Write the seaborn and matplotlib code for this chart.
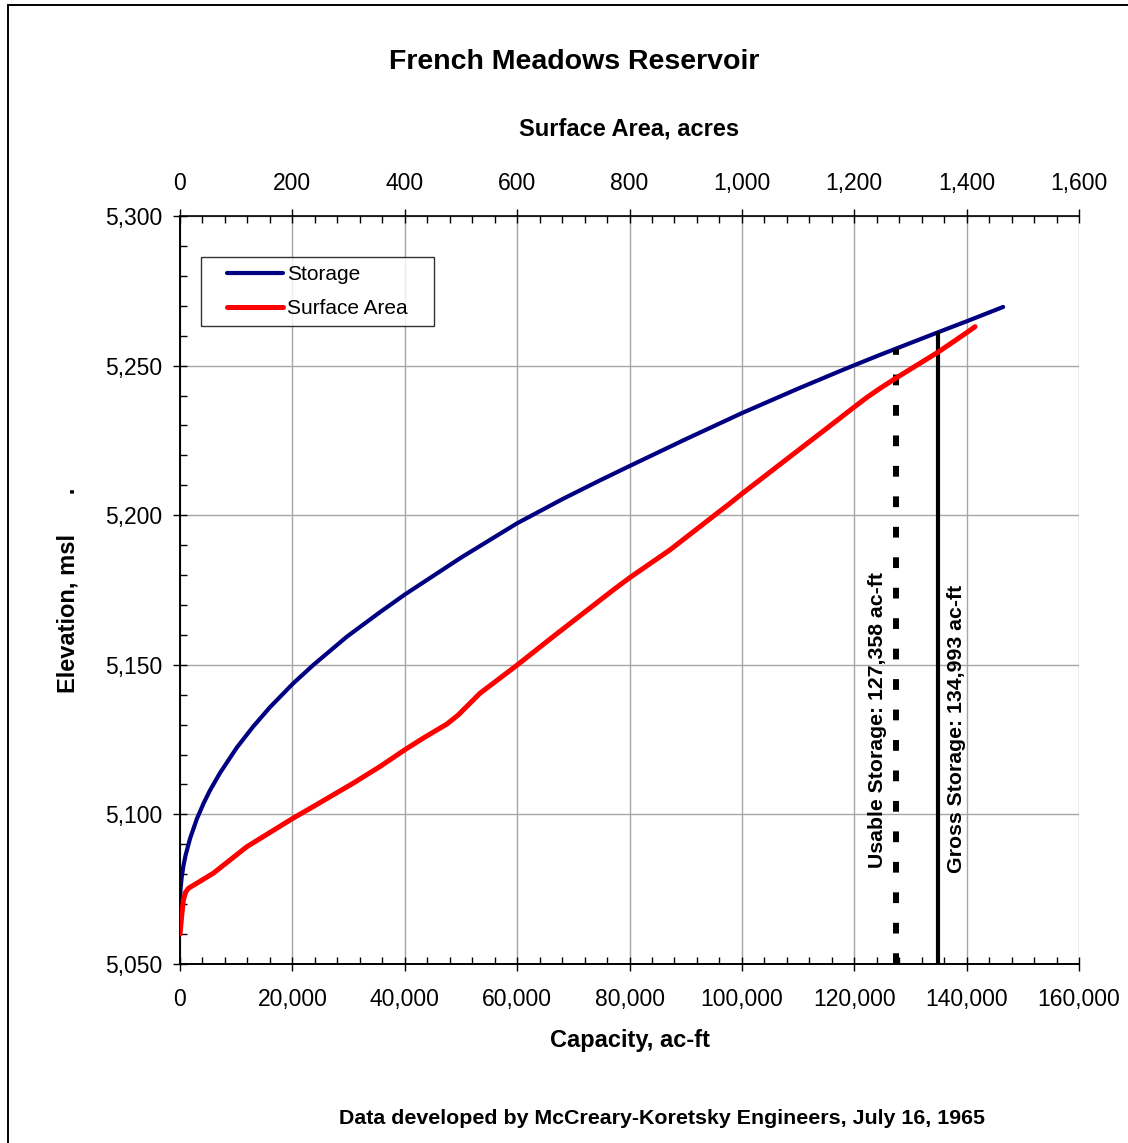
import numpy as np
import pandas as pd
import matplotlib
matplotlib.use("Agg")
import matplotlib.pyplot as plt
from matplotlib.ticker import MultipleLocator, FuncFormatter
from matplotlib.patches import Rectangle
from matplotlib.legend_handler import HandlerLine2D
from matplotlib.lines import Line2D
import seaborn as sns

# Storage curve: capacity (ac-ft) vs elevation (ft msl)
storage_cap = [0, 100, 300, 600, 1000, 1800, 3000, 4200, 5300, 7100, 10100, 13000,
               16000, 20100, 23700, 29700, 35600, 40100, 50000, 60000, 68200, 74700,
               80200, 90000, 100100, 110000, 117500, 120100, 124600, 135000, 140000, 146500]
storage_elev = [5070, 5075.2, 5079, 5082.7, 5086.4, 5092, 5098.5, 5103.7, 5107.9, 5113.8,
                5122.3, 5129.3, 5135.8, 5143.7, 5149.9, 5159.4, 5167.6, 5173.6, 5185.8,
                5197.3, 5205.5, 5211.6, 5216.6, 5225.4, 5234.2, 5242.3, 5248.2, 5250.2,
                5253.6, 5261.2, 5264.8, 5269.6]

# Surface area curve: area (acres) vs elevation (ft msl)
area_acres = [0, 3, 6, 10, 15, 59, 119, 201, 237, 308, 356, 401, 433, 475, 495,
              534, 600, 664, 771, 801, 872, 979, 1001, 1175, 1201, 1222, 1246, 1274,
              1350, 1400, 1415]
area_elev = [5060, 5066, 5071.4, 5074, 5075.3, 5080.3, 5089.2, 5098.7, 5102.6, 5110.4,
             5116, 5121.7, 5125.5, 5130.2, 5133.2, 5140.5, 5149.9, 5159.4, 5175,
             5179.2, 5188.4, 5204, 5207.3, 5232.5, 5236.3, 5239.3, 5242.4, 5245.8,
             5254.6, 5261, 5263]

usable_storage = 127358
gross_storage = 134993

storage = pd.DataFrame({"cap": storage_cap, "elev": storage_elev})
area = pd.DataFrame({"area": area_acres, "elev": area_elev})

sns.set_style("white")
plt.rcParams["font.family"] = ["Liberation Sans", "DejaVu Sans"]
plt.rcParams["text.color"] = "black"
plt.rcParams["axes.labelcolor"] = "black"
plt.rcParams["xtick.color"] = "black"
plt.rcParams["ytick.color"] = "black"


class ShortLine(HandlerLine2D):
    # legend line drawn only on the right part of the handle box, like Excel
    def create_artists(self, legend, orig_handle, xdescent, ydescent, width, height,
                       fontsize, trans):
        arts = super().create_artists(legend, orig_handle, xdescent, ydescent, width,
                                      height, fontsize, trans)
        for a in arts:
            xd = np.asarray(a.get_xdata(), dtype=float)
            yd = np.asarray(a.get_ydata(), dtype=float)
            if len(xd) > 1:
                x0 = xd[0] + 0.24 * (xd[-1] - xd[0])
                a.set_data(np.linspace(x0, xd[-1], len(xd)), yd)
        return arts


fig = plt.figure(figsize=(11.28, 11.43), dpi=100)
ax = fig.add_axes([180 / 1128, 179 / 1143, 899 / 1128, 748 / 1143])
ax2 = ax.twiny()

sns.lineplot(data=storage, x="cap", y="elev", ax=ax, color="#000080", lw=3,
             sort=False, estimator=None, legend=False, label="Storage", zorder=3)
sns.lineplot(data=area, x="area", y="elev", ax=ax2, color="#ff0000", lw=3.6,
             sort=False, estimator=None, legend=False, label="Surface Area", zorder=3)

# storage lines, up to the storage curve
top_usable = np.interp(usable_storage, storage_cap, storage_elev)
top_gross = np.interp(gross_storage, storage_cap, storage_elev)
ax.plot([usable_storage, usable_storage], [5050, top_usable], color="black", lw=4.3,
        linestyle=(0, (1.8, 3.3)), dash_capstyle="butt", zorder=4)
ax.plot([gross_storage, gross_storage], [5050, top_gross], color="black", lw=3,
        solid_capstyle="butt", zorder=4)
ax.annotate(f"Usable Storage: {usable_storage:,} ac-ft", xy=(usable_storage, 5131.5),
            xytext=(-13, 0), textcoords="offset points", rotation=90,
            ha="center", va="center", fontsize=15.3, fontweight="bold")
ax.annotate(f"Gross Storage: {gross_storage:,} ac-ft", xy=(gross_storage, 5128.5),
            xytext=(13, 0), textcoords="offset points", rotation=90,
            ha="center", va="center", fontsize=15.3, fontweight="bold")

fmt = FuncFormatter(lambda v, p: f"{v:,.0f}")

ax.set_xlim(0, 160000)
ax.set_ylim(5050, 5300)
ax.xaxis.set_major_locator(MultipleLocator(20000))
ax.xaxis.set_minor_locator(MultipleLocator(4000))
ax.yaxis.set_major_locator(MultipleLocator(50))
ax.yaxis.set_minor_locator(MultipleLocator(10))
ax.xaxis.set_major_formatter(fmt)
ax.yaxis.set_major_formatter(fmt)

ax2.set_xlim(0, 1600)
ax2.xaxis.set_major_locator(MultipleLocator(200))
ax2.xaxis.set_minor_locator(MultipleLocator(40))
ax2.xaxis.set_major_formatter(fmt)

ax.grid(True, which="major", color="#a6a6a6", lw=1)
ax.set_axisbelow(True)
ax2.grid(False)

for a in (ax, ax2):
    a.spines["right"].set_visible(False)
    for s in a.spines.values():
        s.set_color("black")
        s.set_linewidth(1.2)
ax.spines["top"].set_visible(False)

ax.tick_params(which="major", direction="inout", length=10, width=1, color="black",
               labelsize=16.5, top=False, right=False, bottom=True, left=True)
ax.tick_params(which="minor", direction="in", length=5, width=1, color="black",
               top=False, right=False, bottom=True, left=True)
ax.tick_params(axis="x", which="major", pad=12.6)
ax.tick_params(axis="y", which="major", pad=8)
ax2.tick_params(which="major", direction="inout", length=10, width=1, color="black",
                labelsize=16.5, pad=10)
ax2.tick_params(which="minor", direction="in", length=5, width=1, color="black")

ax.set_xlabel("Capacity, ac-ft", fontsize=17, fontweight="bold", labelpad=13)
ax.set_ylabel("Elevation, msl      .", fontsize=17, fontweight="bold", labelpad=18)
ax2.set_xlabel("Surface Area, acres", fontsize=17, fontweight="bold", labelpad=26.5)

h1, l1 = ax.get_legend_handles_labels()
h2, l2 = ax2.get_legend_handles_labels()
labels = [l + "   " if l == "Surface Area" else l for l in l1 + l2]
leg = ax2.legend(h1 + h2, labels, loc="upper left", bbox_to_anchor=(0.0234, 0.945),
                 borderaxespad=0, fontsize=15, frameon=True, fancybox=False,
                 handlelength=3.55, handletextpad=0.2, labelspacing=0.69, borderpad=0.4,
                 handler_map={Line2D: ShortLine()})
leg.get_frame().set_edgecolor("black")
leg.get_frame().set_linewidth(1)

fig.text(574 / 1128, 1 - 62 / 1143, "French Meadows Reservoir", ha="center", va="center",
         fontsize=20.5, fontweight="bold")
fig.text(662 / 1128, 1 - 1119 / 1143, "Data developed by McCreary-Koretsky Engineers, July 16, 1965",
         ha="center", va="center", fontsize=15.4, fontweight="bold")

fig.patches.append(Rectangle((8 / 1128, -0.05), 1.2, 1.05 - 5 / 1143, transform=fig.transFigure,
                             fill=False, edgecolor="black", lw=1.4))

fig.savefig("out.png", dpi=100)
